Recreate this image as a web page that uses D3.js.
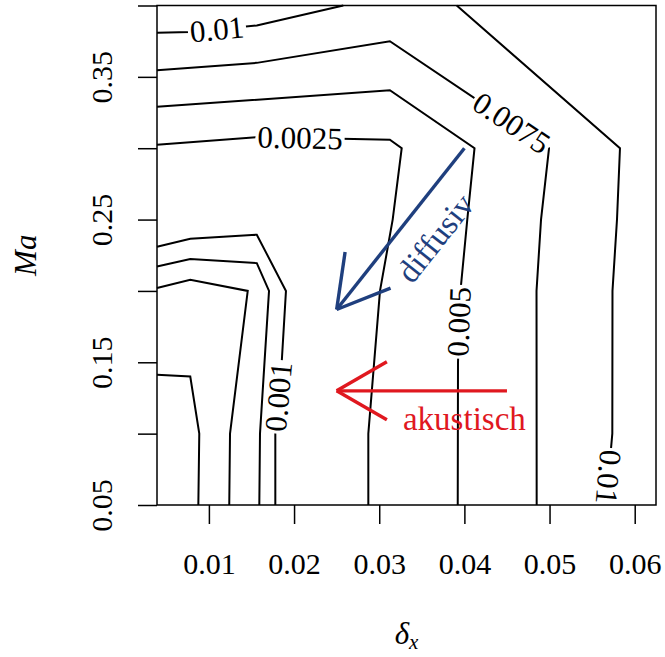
<!DOCTYPE html>
<html>
<head>
<meta charset="utf-8">
<script src="https://cdn.jsdelivr.net/npm/d3@7"></script>
<style>
  html, body { margin: 0; padding: 0; background: #fff; }
  svg { display: block; }
</style>
</head>
<body>
<svg id="chart" width="665" height="657"></svg>
<script>
// ---- axes ----
const xDomain = [0.00390625, 0.0625];
const yDomain = [0.05, 0.40];
const xTickValues = [0.01, 0.02, 0.03, 0.04, 0.05, 0.06];
const xTickLabels = ["0.01", "0.02", "0.03", "0.04", "0.05", "0.06"];
const yTickValues = [0.05, 0.10, 0.15, 0.20, 0.25, 0.30, 0.35, 0.40];
const yTickLabels = ["0.05", "", "0.15", "", "0.25", "", "0.35", ""];

// ---- contour lines, points as [δx, Ma] ----
const c0100Left  = [[0.00390625, 0.3809], [0.0078125, 0.3814], [0.015625, 0.3860], [0.02578, 0.40]];
const c0100Right = [[0.03910, 0.40], [0.05827, 0.30], [0.05792, 0.25], [0.05739, 0.20], [0.05737, 0.10], [0.05663, 0.05]];
const c0075 = [[0.00390625, 0.3546], [0.015625, 0.3598], [0.03125, 0.3750], [0.04994, 0.30], [0.04900, 0.25], [0.04847, 0.20], [0.04849, 0.05]];
const c0050 = [[0.00390625, 0.3290], [0.03125, 0.3406], [0.04119, 0.30], [0.04034, 0.25], [0.03954, 0.20], [0.03925, 0.15], [0.03922, 0.05]];
const c0025 = [[0.00390625, 0.3025], [0.015625, 0.3078], [0.03125, 0.3060], [0.03264, 0.30], [0.03158, 0.25], [0.03009, 0.20], [0.02872, 0.10], [0.02872, 0.05]];
const c0010 = [[0.00390625, 0.2310], [0.0078125, 0.2366], [0.015625, 0.2394], [0.01905, 0.20], [0.01855, 0.15], [0.01780, 0.10], [0.01780, 0.05]];
const c00075 = [[0.00390625, 0.2171], [0.0078125, 0.2223], [0.015625, 0.2195], [0.01706, 0.20], [0.01600, 0.10], [0.01592, 0.05]];
const c00050 = [[0.00390625, 0.2020], [0.0078125, 0.2078], [0.01456, 0.20], [0.01248, 0.10], [0.01239, 0.05]];
const c00025 = [[0.00390625, 0.1412], [0.0078125, 0.1400], [0.00887, 0.10], [0.00876, 0.05]];
const contourLines = [c0100Left, c0100Right, c0075, c0050, c0025, c0010, c00075, c00050, c00025];

// contour labels: text, line, position [δx, Ma], reversed reading direction
const labelTexts = ["0.01", "0.0075", "0.0025", "0.005", "0.001", "0.01"];
const labelLines = [c0100Left, c0075, c0025, c0050, c0010, c0100Right];
const labelPoints = [[0.01095, 0.3832], [0.04553, 0.3177], [0.02070, 0.3072], [0.03937, 0.1784], [0.01817, 0.1258], [0.05692, 0.0696]];
const labelReversed = [false, false, false, false, false, true];

// regime arrows, [δx, Ma] from -> to
const arrowNames = ["diffusiv", "akustisch"];
const arrowFrom = [[0.040, 0.30], [0.045, 0.13]];
const arrowTo   = [[0.025, 0.187], [0.025, 0.13]];
const arrowTextAt = [[0.03660, 0.2370], [0.040, 0.11]];

// ---- layout ----
const W = 665, H = 657;
const plotLeft = 157, plotRight = 656, plotTop = 5.5, plotBottom = 505;
const FONT = "'Liberation Serif', 'DejaVu Serif', serif";
const FONT_TICK = 30, FONT_LABEL = 31, FONT_TITLE = 31, FONT_NOTE = 33;
const arrowColors = ["#1f3f7e", "#e0181f"];

const svg = d3.select("#chart").attr("font-family", FONT);
const x = d3.scaleLinear().domain(xDomain).range([plotLeft, plotRight]);
const y = d3.scaleLinear().domain(yDomain).range([plotBottom, plotTop]);

// x axis
const gx = svg.append("g").attr("transform", `translate(0,${plotBottom})`)
  .call(d3.axisBottom(x).tickValues(xTickValues).tickSize(19)
        .tickFormat((d, i) => xTickLabels[i]));
gx.attr("font-family", FONT).attr("font-size", FONT_TICK);
gx.select(".domain").remove();
gx.selectAll(".tick line").attr("stroke", "#000").attr("stroke-width", 1.5);
gx.selectAll(".tick text").attr("y", 69).attr("dy", null).attr("fill", "#000");

// y axis
const gy = svg.append("g").attr("transform", `translate(${plotLeft},0)`)
  .call(d3.axisLeft(y).tickValues(yTickValues).tickSize(19)
        .tickFormat((d, i) => yTickLabels[i]));
gy.attr("font-family", FONT).attr("font-size", FONT_TICK);
gy.select(".domain").remove();
gy.selectAll(".tick line").attr("stroke", "#000").attr("stroke-width", 1.5);
gy.selectAll(".tick text").attr("x", null).attr("dy", null)
  .attr("text-anchor", "middle")
  .attr("transform", "translate(-45,0) rotate(-90)")
  .attr("fill", "#000");

// plot frame
svg.append("rect")
  .attr("x", plotLeft).attr("y", plotTop).attr("width", plotRight - plotLeft).attr("height", plotBottom - plotTop)
  .attr("fill", "none").attr("stroke", "#000").attr("stroke-width", 1.5);

// axis titles
svg.append("text")
  .attr("transform", `translate(36,${(plotTop + plotBottom) / 2}) rotate(-90)`)
  .attr("text-anchor", "middle").attr("font-size", FONT_TITLE).attr("font-style", "italic")
  .attr("font-family", FONT).text("Ma");
const xt = svg.append("text")
  .attr("x", (plotLeft + plotRight) / 2).attr("y", 644)
  .attr("text-anchor", "middle").attr("font-size", FONT_TITLE).attr("font-style", "italic")
  .attr("font-family", FONT);
xt.append("tspan").text("δ");
xt.append("tspan").attr("font-size", 21).attr("dy", 5).text("x");

// contour lines, gaps cut out under labels
const defs = svg.append("defs");
const mask = defs.append("mask").attr("id", "labelGaps")
  .attr("maskUnits", "userSpaceOnUse").attr("x", 0).attr("y", 0).attr("width", W).attr("height", H);
mask.append("rect").attr("width", W).attr("height", H).attr("fill", "#fff");

const line = d3.line().x(d => x(d[0])).y(d => y(d[1]));
svg.append("g").attr("mask", "url(#labelGaps)")
  .selectAll("path").data(contourLines).join("path")
  .attr("d", line).attr("fill", "none").attr("stroke", "#000")
  .attr("stroke-width", 2).attr("stroke-linejoin", "miter");

function segmentAngle(pts, px, py) {
  let best = Infinity, ang = 0;
  for (let i = 0; i < pts.length - 1; i++) {
    const ax = x(pts[i][0]), ay = y(pts[i][1]);
    const bx = x(pts[i + 1][0]), by = y(pts[i + 1][1]);
    const dx = bx - ax, dy = by - ay;
    const t = Math.max(0, Math.min(1, ((px - ax) * dx + (py - ay) * dy) / (dx * dx + dy * dy)));
    const d = Math.hypot(ax + t * dx - px, ay + t * dy - py);
    if (d < best) { best = d; ang = Math.atan2(dy, dx) * 180 / Math.PI; }
  }
  while (ang > 90) ang -= 180;
  while (ang <= -90) ang += 180;
  return ang;
}

const labelG = svg.append("g").attr("font-family", FONT);
labelTexts.forEach((txt, i) => {
  const px = x(labelPoints[i][0]), py = y(labelPoints[i][1]);
  let a = segmentAngle(labelLines[i], px, py);
  if (labelReversed[i]) a += 180;
  const t = labelG.append("text")
    .attr("transform", `translate(${px},${py}) rotate(${a})`)
    .attr("text-anchor", "middle").attr("dominant-baseline", "central")
    .attr("font-size", FONT_LABEL).attr("fill", "#000").text(txt);
  const w = t.node().getComputedTextLength() + 4;
  mask.append("rect")
    .attr("transform", `translate(${px},${py}) rotate(${a})`)
    .attr("x", -w / 2).attr("y", -6).attr("width", w).attr("height", 12)
    .attr("fill", "#000");
});

// regime arrows with open heads
const headLen = 58, headAngle = Math.PI / 6;
arrowNames.forEach((name, i) => {
  const x0 = x(arrowFrom[i][0]), y0 = y(arrowFrom[i][1]);
  const x1 = x(arrowTo[i][0]), y1 = y(arrowTo[i][1]);
  const back = Math.atan2(y0 - y1, x0 - x1);
  const g = svg.append("g").attr("stroke", arrowColors[i]).attr("stroke-width", 3.4)
    .attr("fill", "none").attr("stroke-linecap", "butt");
  g.append("line").attr("x1", x0).attr("y1", y0).attr("x2", x1).attr("y2", y1);
  [-headAngle, headAngle].forEach(da => {
    g.append("line").attr("x1", x1).attr("y1", y1)
      .attr("x2", x1 + headLen * Math.cos(back + da))
      .attr("y2", y1 + headLen * Math.sin(back + da));
  });
  const tx = x(arrowTextAt[i][0]), ty = y(arrowTextAt[i][1]);
  const rot = i === 0 ? Math.atan2(y0 - y1, x0 - x1) * 180 / Math.PI : 0;
  svg.append("text")
    .attr("transform", `translate(${tx},${ty}) rotate(${rot})`)
    .attr("text-anchor", "middle").attr("dominant-baseline", "central")
    .attr("font-family", FONT)
    .attr("font-size", FONT_NOTE).attr("fill", arrowColors[i]).text(name);
});
</script>
</body>
</html>
